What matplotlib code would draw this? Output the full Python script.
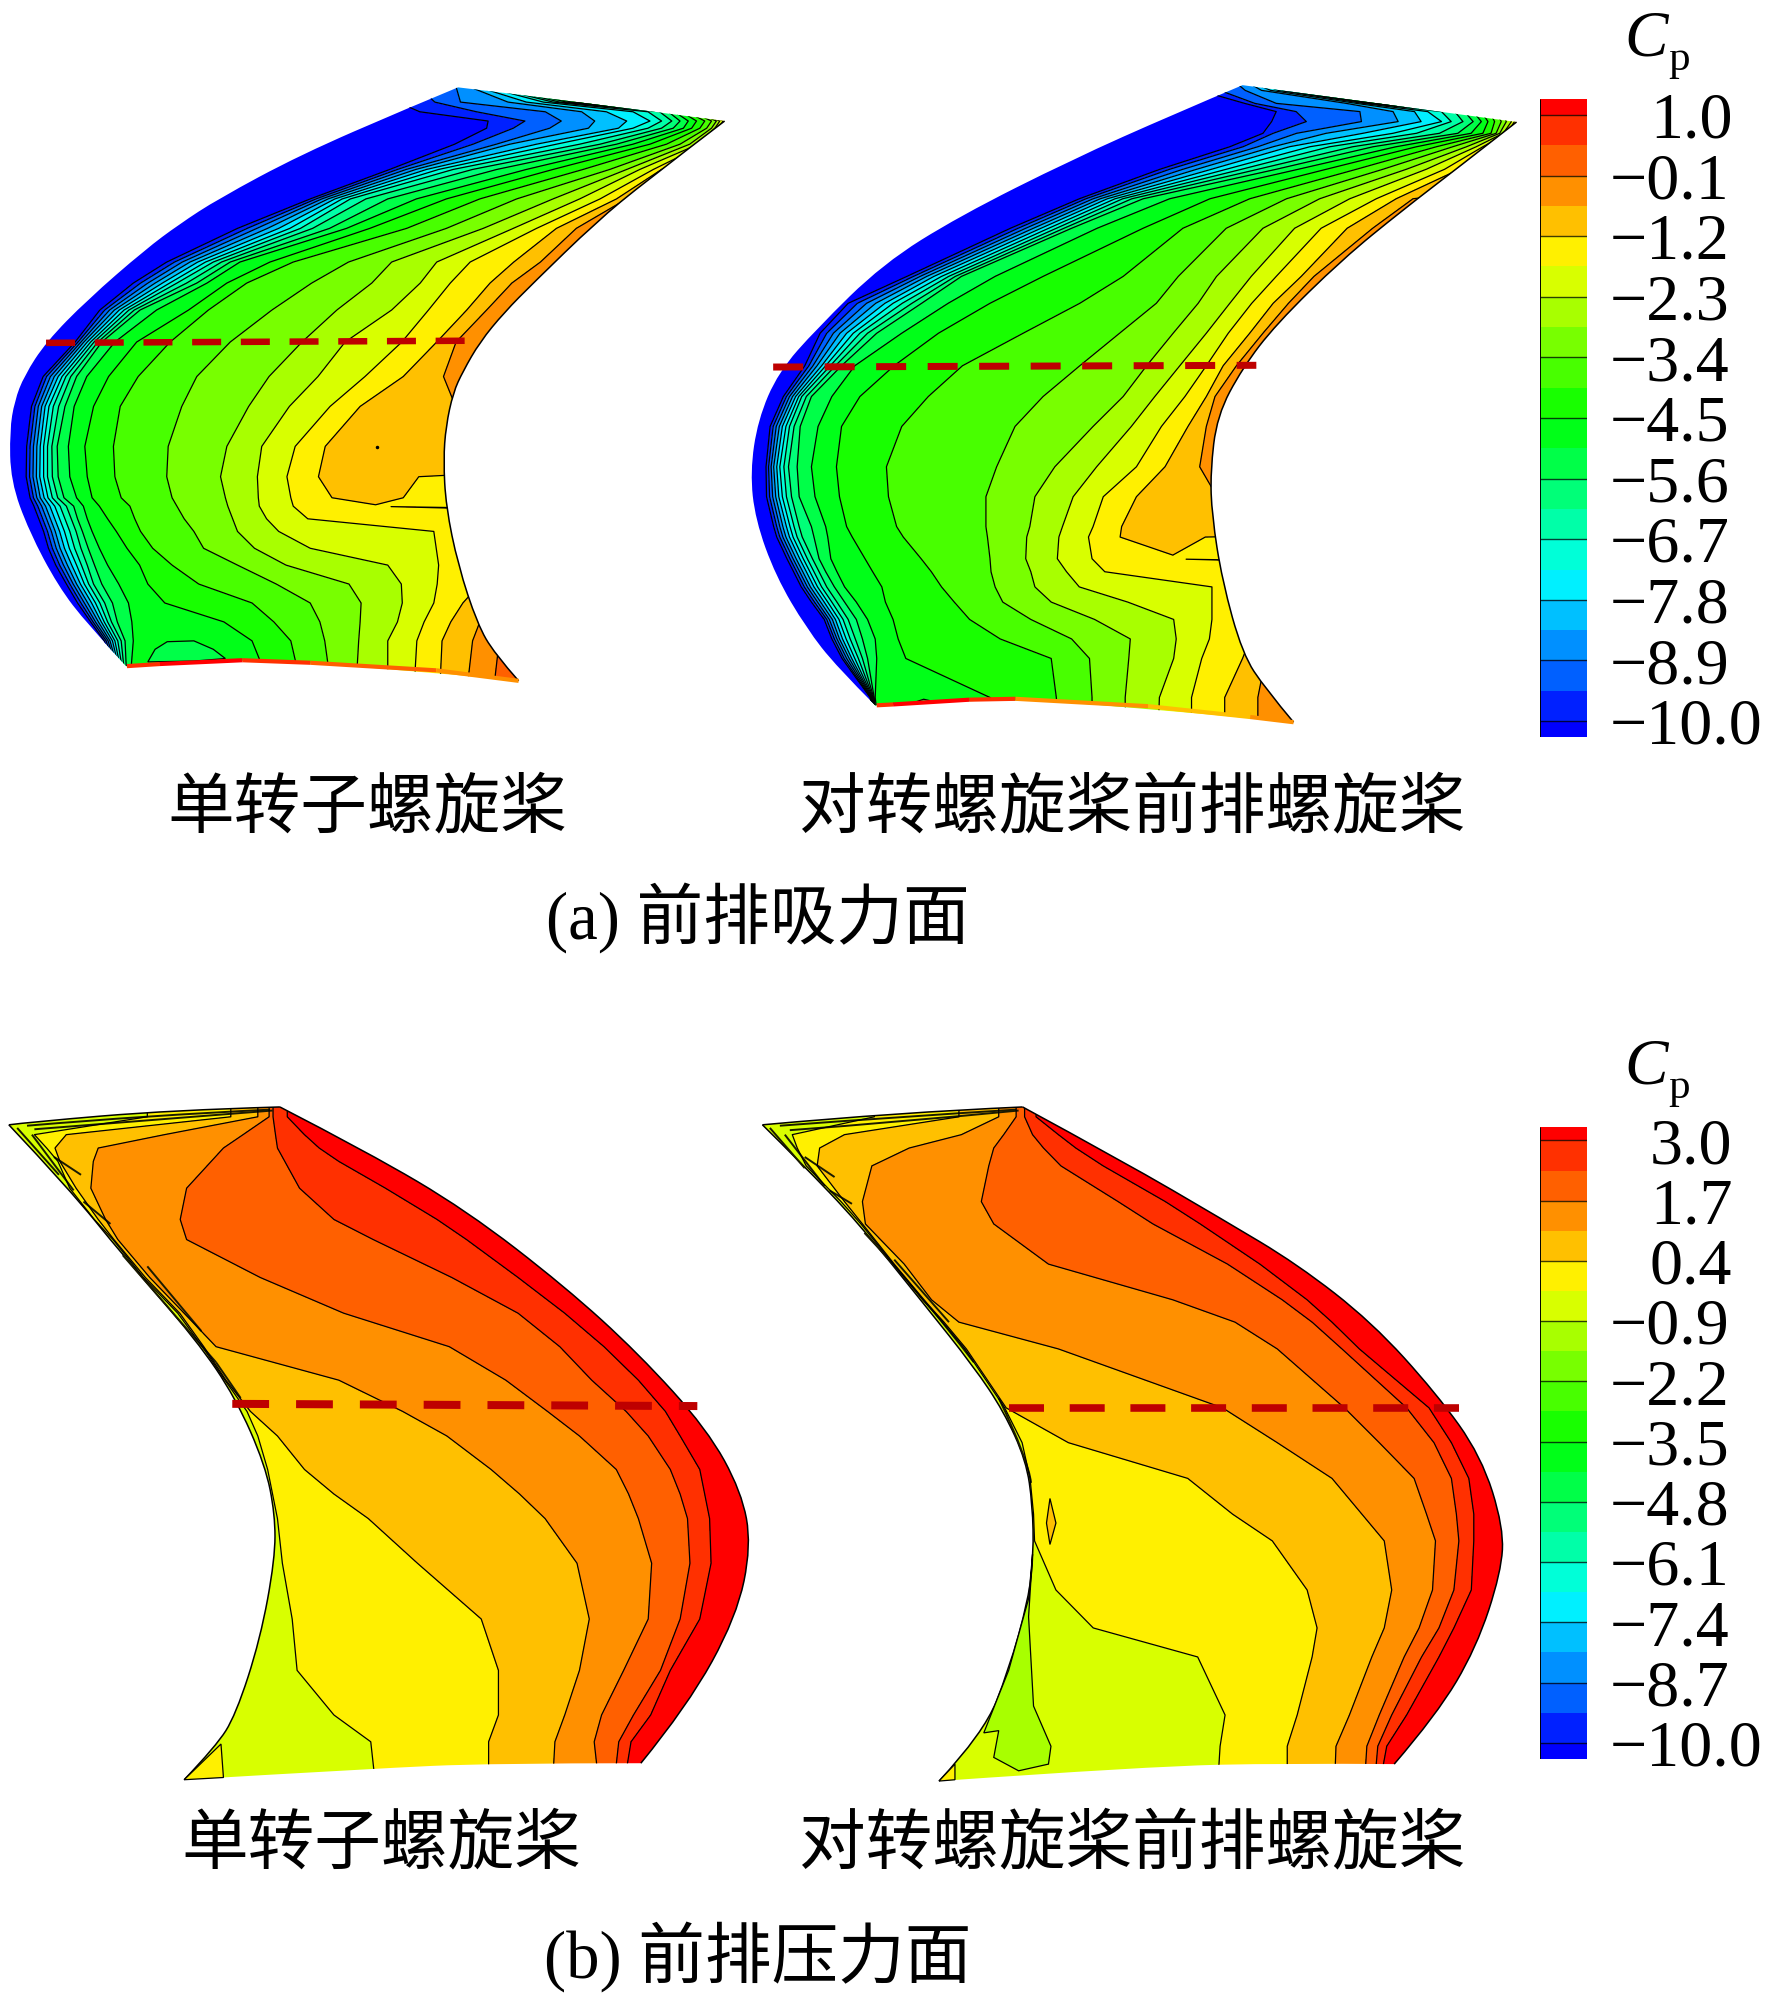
import numpy as np
import matplotlib
matplotlib.use('Agg')
import matplotlib.pyplot as plt
from matplotlib.colors import ListedColormap, BoundaryNorm
from matplotlib.patches import PathPatch
from matplotlib.path import Path
from matplotlib.transforms import blended_transform_factory

W, H = 1772, 1995
SERIF = ['Liberation Serif', 'Noto Sans CJK SC']

BAND_COLORS = ['#0000FF', '#0020FF', '#0060FF', '#0090FF', '#00C0FF', '#00F0FF',
               '#00FFD8', '#00FFA8', '#00FF78', '#00FF48', '#00FF18', '#18FF00',
               '#48FF00', '#78FF00', '#A8FF00', '#D8FF00', '#FFF000', '#FFC000',
               '#FF9000', '#FF6000', '#FF3000', '#FF0000']

# contour levels of the two colour bars
LEVELS_A = [-10, -9.45, -8.9, -8.35, -7.8, -7.25, -6.7, -6.15, -5.6, -5.05, -4.5,
            -3.95, -3.4, -2.85, -2.3, -1.75, -1.2, -0.65, -0.1, 0.45, 1.0]
LEVELS_B = [-10, -9.35, -8.7, -8.05, -7.4, -6.75, -6.1, -5.45, -4.8, -4.15, -3.5,
            -2.85, -2.2, -1.55, -0.9, -0.25, 0.4, 1.05, 1.7, 2.35, 3.0]
TICKS_A = [1.0, -0.1, -1.2, -2.3, -3.4, -4.5, -5.6, -6.7, -7.8, -8.9, -10.0]
TICKS_B = [3.0, 1.7, 0.4, -0.9, -2.2, -3.5, -4.8, -6.1, -7.4, -8.7, -10.0]

# blade outlines (local crop units, 1568 x 1568 per crop)
A1_EDGE = [(945, 65), (840, 115), (620, 225), (450, 330), (370, 390), (300, 450), (180, 570),
           (95, 670), (50, 750), (30, 810), (20, 880), (22, 1000), (60, 1120), (120, 1250),
           (180, 1340), (260, 1440)]
A1_TOP = [(945, 65), (1200, 100), (1495, 145)]
A1_TE = [(1495, 145), (1330, 290), (1230, 385), (1100, 530), (1040, 600), (990, 670), (955, 740),
         (935, 790), (920, 870), (915, 950), (920, 1060), (945, 1200), (985, 1340), (1020, 1410),
         (1070, 1475)]
A1_HUB = [(1070, 1475), (800, 1445), (520, 1425), (400, 1430), (260, 1440)]

A2_EDGE = [(985, 58), (850, 125), (650, 230), (430, 360), (280, 470), (150, 620), (75, 720),
           (35, 830), (20, 950), (30, 1060), (70, 1190), (130, 1310), (190, 1400), (265, 1488)]
A2_TOP = [(985, 58), (1250, 100), (1522, 143)]
A2_TE = [(1522, 143), (1400, 255), (1300, 345), (1180, 460), (1050, 610), (985, 710), (935, 820),
         (922, 950), (925, 1050), (945, 1200), (985, 1370), (1030, 1450), (1085, 1527)]
A2_HUB = [(1085, 1527), (700, 1485), (500, 1472), (265, 1488)]

B1_TE = [(18, 78), (140, 220), (250, 370), (400, 560), (480, 690), (540, 840), (560, 950),
         (560, 1050), (530, 1230), (480, 1400), (440, 1470), (375, 1545)]
B1_TOP = [(18, 78), (60, 72), (350, 45), (570, 38)]
B1_EDGE = [(570, 38), (750, 140), (950, 270), (1150, 440), (1300, 590), (1440, 760), (1510, 900),
           (1530, 1020), (1500, 1180), (1400, 1380), (1305, 1508)]
B1_HUB = [(1305, 1508), (1000, 1508), (760, 1520), (375, 1545)]

B2_TE = [(25, 78), (100, 160), (220, 300), (350, 480), (450, 620), (510, 720), (555, 830),
         (568, 930), (570, 1040), (560, 1140), (520, 1300), (470, 1440), (380, 1548)]
B2_TOP = [(25, 78), (300, 50), (548, 38)]
B2_EDGE = [(548, 38), (750, 160), (950, 290), (1100, 390), (1250, 520), (1380, 680), (1470, 820),
           (1515, 980), (1510, 1080), (1460, 1250), (1380, 1400), (1295, 1510)]
B2_HUB = [(1295, 1510), (1080, 1508), (800, 1515), (380, 1548)]

# where each level crosses a scan row: row y, then x of level -10, -9.45, ...
A1_Y = [60, 100, 123, 145, 162, 200, 260, 330, 400, 480, 530, 594, 670, 752, 823, 918, 990, 1040,
        1060, 1090, 1120, 1160, 1200, 1245, 1290, 1335, 1380, 1480]
A1_X = [[800, 860, 940, 960, 975, 990, 1000, 1010, 1020, 1030, 1040, 1050, 1060, 1070, 1080, 1090, 1100],
        [820, 897, 950, 1048, 1086, 1121, 1141, 1155, 1169, 1179, 1190, 1198, 1207, 1216, 1225, 1234, 1243],
        [866, 983, 1125, 1200, 1251, 1306, 1337, 1361, 1379, 1392, 1406, 1417, 1427, 1434, 1441, 1450, 1460],
        [1007, 1083, 1158, 1227, 1293, 1341, 1365, 1386, 1403, 1420, 1437, 1454, 1468, 1478, 1485, 1492, 1500],
        [1004, 1059, 1134, 1214, 1276, 1306, 1337, 1365, 1389, 1410, 1427, 1444, 1458, 1468, 1475, 1482, 1490],
        [938, 976, 1024, 1052, 1107, 1148, 1196, 1238, 1272, 1306, 1341, 1375, 1403, 1423, 1441, 1454, 1470],
        [804, 820, 838, 858, 880, 905, 935, 975, 1025, 1086, 1141, 1203, 1258, 1293, 1320, 1348, 1365],
        [640, 652, 664, 677, 691, 706, 723, 755, 800, 859, 921, 990, 1066, 1141, 1196, 1238, 1272, 1293],
        [490, 510, 530, 552, 575, 598, 620, 645, 680, 715, 763, 839, 921, 997, 1059, 1107, 1148, 1189],
        [344, 360, 376, 392, 408, 424, 440, 457, 475, 495, 557, 605, 719, 808, 901, 970, 1060, 1115],
        [275, 290, 305, 320, 335, 350, 365, 385, 406, 427, 468, 509, 643, 767, 867, 929, 1011, 1056],
        [206, 216, 226, 236, 246, 256, 266, 277, 289, 323, 389, 430, 561, 695, 808, 884, 963, 1004],
        [155, 161, 167, 173, 180, 187, 194, 202, 210, 237, 282, 351, 475, 623, 712, 829, 901, 941],
        [89, 96, 104, 112, 120, 128, 136, 146, 158, 179, 224, 285, 406, 555, 656, 753, 832, 915],
        [65, 72, 79, 86, 93, 101, 110, 121, 134, 153, 193, 248, 375, 513, 597, 681, 743, 940],
        [55, 62, 69, 76, 83, 90, 98, 107, 118, 141, 175, 234, 347, 468, 540, 609, 671],
        [54, 61, 68, 75, 82, 90, 98, 108, 120, 144, 180, 237, 344, 455, 531, 592, 657, 840, 960],
        [62, 69, 76, 83, 91, 99, 108, 119, 132, 158, 190, 250, 355, 465, 533, 600, 685, 800, 960],
        [70, 78, 86, 94, 103, 113, 124, 137, 152, 172, 205, 268, 365, 470, 535, 605, 740, 770, 960],
        [80, 88, 96, 104, 113, 123, 134, 147, 160, 180, 222, 278, 380, 480, 550, 635],
        [90, 98, 106, 114, 123, 133, 144, 157, 170, 190, 240, 290, 400, 490, 575, 895],
        [100, 108, 116, 124, 133, 143, 154, 167, 182, 205, 262, 315, 420, 525, 640, 900],
        [115, 123, 131, 139, 148, 158, 168, 180, 195, 222, 288, 355, 490, 590, 800, 905, 1000, 1100],
        [137, 144, 151, 158, 166, 174, 183, 193, 210, 245, 305, 410, 570, 720, 828, 902, 990, 1100],
        [160, 167, 174, 181, 189, 197, 206, 216, 232, 265, 340, 520, 640, 745, 830, 895, 955, 1000, 1100],
        [187, 192, 197, 203, 209, 215, 222, 230, 242, 272, 462, 565, 660, 743, 820, 875, 930, 990, 1050],
        [215, 219, 223, 227, 232, 237, 243, 250, 258, 275, 520, 600, 670, 740, 800, 860, 912, 975, 1030],
        [245, 247, 249, 251, 253, 255, 257, 259, 262, 268, 555, 620, 682, 735, 800, 855, 908, 965, 1020]]
# (row, level index, Cp) where the row turns back down after the peak
A1_TURN = [(16, 17, -1.1), (16, 18, -1.6), (17, 17, -1.1), (17, 18, -1.6),
           (18, 16, -1.22), (18, 17, -1.22), (18, 18, -1.6)]

A2_Y = [55, 70, 100, 119, 142, 169, 200, 252, 320, 388, 499, 561, 630, 705, 776, 845, 938, 1007,
        1076, 1100, 1150, 1180, 1215, 1250, 1290, 1335, 1380, 1470, 1540]
A2_X = [[860, 920, 975, 1000, 1010, 1020, 1030, 1040, 1050, 1060, 1070, 1080, 1090, 1100, 1110, 1120, 1130],
        [900, 940, 990, 1022, 1040, 1055, 1065, 1075, 1085, 1095, 1105, 1115, 1125, 1135, 1145, 1155, 1165],
        [989, 1009, 1051, 1188, 1208, 1221, 1231, 1237, 1244, 1250, 1257, 1264, 1271, 1278, 1285, 1292, 1299],
        [1051, 1090, 1215, 1280, 1322, 1348, 1375, 1401, 1420, 1437, 1453, 1469, 1482, 1492, 1502, 1508, 1515],
        [1042, 1110, 1218, 1290, 1335, 1375, 1394, 1417, 1437, 1453, 1466, 1479, 1492, 1502, 1512, 1518, 1525],
        [1025, 1045, 1091, 1149, 1221, 1280, 1326, 1371, 1407, 1433, 1456, 1472, 1482, 1489, 1496, 1503, 1510],
        [960, 986, 1015, 1045, 1077, 1117, 1156, 1201, 1241, 1286, 1326, 1365, 1397, 1424, 1443, 1456, 1470],
        [823, 842, 868, 895, 924, 953, 983, 1015, 1051, 1094, 1149, 1208, 1260, 1306, 1345, 1381, 1410],
        [665, 678, 692, 706, 720, 735, 750, 768, 790, 842, 921, 999, 1071, 1136, 1195, 1247, 1286, 1319],
        [530, 545, 560, 575, 590, 605, 620, 635, 650, 700, 790, 868, 953, 1025, 1087, 1139, 1190, 1240],
        [327, 340, 353, 366, 380, 395, 409, 422, 434, 500, 594, 751, 859, 934, 1002, 1051, 1100, 1125],
        [212, 230, 248, 266, 284, 300, 318, 337, 356, 408, 490, 666, 816, 898, 960, 1003, 1045, 1075],
        [157, 170, 183, 196, 209, 222, 235, 250, 268, 317, 389, 555, 744, 849, 914, 957, 999, 1025],
        [127, 135, 143, 151, 160, 168, 177, 187, 199, 225, 302, 436, 666, 797, 862, 914, 947, 973],
        [85, 91, 97, 103, 109, 115, 121, 130, 140, 180, 235, 369, 594, 751, 813, 872, 914, 931],
        [59, 65, 71, 77, 83, 90, 97, 106, 118, 153, 199, 317, 539, 692, 767, 826, 878, 914],
        [51, 56, 61, 66, 72, 78, 86, 95, 112, 140, 189, 287, 503, 617, 699, 777, 833, 901],
        [52, 58, 64, 70, 76, 83, 91, 101, 116, 147, 195, 291, 482, 578, 653, 712, 777, 935],
        [66, 72, 78, 84, 91, 98, 106, 116, 140, 168, 209, 307, 482, 568, 632, 692, 748],
        [72, 78, 84, 90, 97, 104, 112, 122, 145, 172, 220, 320, 485, 562, 625, 683, 745, 890, 1000],
        [92, 98, 104, 110, 117, 124, 132, 142, 155, 178, 245, 355, 490, 560, 622, 690, 780, 840, 1000],
        [105, 111, 117, 123, 130, 137, 145, 155, 168, 190, 260, 375, 492, 570, 640, 715],
        [120, 126, 132, 138, 145, 152, 160, 170, 185, 205, 278, 395, 500, 578, 665, 925],
        [140, 146, 152, 158, 165, 172, 180, 190, 205, 228, 285, 420, 515, 610, 760, 925],
        [165, 170, 175, 181, 187, 194, 202, 212, 228, 250, 300, 450, 570, 695, 850, 925, 1010, 1100],
        [180, 185, 190, 195, 201, 208, 216, 226, 240, 265, 310, 510, 650, 765, 855, 920, 1000, 1060],
        [200, 204, 209, 214, 219, 225, 232, 240, 250, 268, 325, 610, 685, 762, 850, 905, 985, 1030],
        [255, 256, 257, 258, 259, 260, 261, 262, 263, 265, 490, 620, 690, 755, 822, 885, 950, 1015],
        [262, 263, 264, 265, 266, 267, 268, 269, 270, 272, 560, 625, 690, 755, 820, 885, 950, 1015]]
A2_TURN = [(19, 17, -1.1), (19, 18, -1.6), (20, 16, -1.22), (20, 17, -1.22), (20, 18, -1.6)]

# pressure side: x of levels -0.25, 0.4, 1.05, 1.7, 2.35, 3.0
B_COLS = [-0.25, 0.4, 1.05, 1.7, 2.35, 3.0]
B1_Y = [30, 60, 100, 130, 160, 220, 290, 335, 420, 500, 575, 650, 720, 775, 850, 905, 960, 1060, 1185,
        1300, 1400, 1460, 1560]
B1_X = [[300, 470, 525, 548, 556, 585], [300, 470, 525, 548, 556, 585], [70, 135, 335, 495, 561, 620],
        [95, 112, 200, 455, 565, 650], [118, 122, 190, 430, 580, 690], [142, 155, 185, 380, 610, 785],
        [192, 200, 215, 367, 680, 890], [230, 232, 240, 380, 760, 950], [292, 296, 305, 530, 920, 1055],
        [362, 366, 375, 700, 1055, 1150], [412, 415, 440, 915, 1140, 1230], [458, 460, 690, 1030, 1205, 1300],
        [503, 510, 820, 1115, 1275, 1355], [525, 565, 910, 1180, 1320, 1385], [545, 620, 1000, 1255, 1365, 1425],
        [555, 680, 1058, 1280, 1385, 1435], [565, 750, 1110, 1300, 1400, 1445],
        [575, 850, 1175, 1327, 1405, 1448], [595, 980, 1200, 1320, 1385, 1425], [605, 1015, 1180, 1270, 1345, 1365],
        [680, 1015, 1150, 1225, 1290, 1325], [755, 995, 1130, 1210, 1260, 1285], [765, 995, 1125, 1220, 1250, 1270]]

B2_Y = [30, 60, 100, 130, 170, 250, 300, 390, 470, 520, 580, 712, 790, 870, 950, 1010, 1120, 1205, 1270,
        1400, 1470, 1560]
B2_X = [[250, 420, 500, 535, 552, 575], [250, 420, 500, 535, 552, 575], [85, 190, 425, 510, 568, 620],
        [95, 140, 320, 490, 590, 655], [113, 135, 245, 480, 625, 710], [183, 190, 226, 465, 740, 835],
        [223, 226, 232, 490, 810, 905], [288, 290, 310, 600, 960, 1025], [347, 349, 365, 850, 1070, 1120],
        [387, 390, 420, 975, 1130, 1170], [432, 435, 620, 1060, 1190, 1225], [512, 515, 950, 1195, 1320, 1365],
        [547, 640, 1060, 1265, 1375, 1410], [563, 880, 1170, 1335, 1410, 1445], [570, 970, 1230, 1360, 1420, 1455],
        [572, 1050, 1275, 1378, 1425, 1455],
        [615, 1120, 1290, 1372, 1415, 1450], [690, 1140, 1275, 1345, 1385, 1415], [900, 1130, 1250, 1315, 1350, 1385],
        [955, 1100, 1205, 1265, 1290, 1320], [945, 1080, 1178, 1240, 1262, 1280], [940, 1080, 1175, 1235, 1255, 1265]]

# thin high pressure strip along the hub of the suction side
A1_STRIP_X = [262, 330, 500, 640, 900, 1070]
A1_STRIP_Y = [1440, 1435, 1426, 1432, 1450, 1475]
A1_STRIP_CP = [0.7, 1.2, 0.6, 0.1, -0.4]
A2_STRIP_X = [268, 300, 450, 540, 800, 1000, 1085]
A2_STRIP_Y = [1488, 1486, 1475, 1473, 1490, 1515, 1527]
A2_STRIP_CP = [0.7, 1.2, 0.7, -0.3, -0.9, -0.4]

# small closed islands
A1_SPOT = [(305, 1430), (320, 1400), (345, 1382), (400, 1380), (440, 1400), (465, 1422), (400, 1428)]
A2_SPOT = [(345, 1480), (360, 1474), (375, 1478), (360, 1482)]
B2_SPOT = [(603, 915), (615, 970), (603, 1018), (596, 970)]
B2_WEDGE = [(568, 1040), (560, 1180), (570, 1380), (605, 1470), (600, 1510), (540, 1525), (490, 1495),
            (500, 1435), (470, 1440), (520, 1300), (560, 1140)]
B1_CORNER = [(375, 1545), (450, 1465), (455, 1540)]
B2_CORNER = [(380, 1548), (412, 1510), (412, 1545)]

# dark packed lines near the tip of the pressure side
B1_FRINGE = [[(55, 80), (300, 57), (550, 44)], [(70, 88), (300, 68), (555, 46)], [(35, 85), (120, 190)],
             [(65, 100), (150, 225)], [(110, 150), (165, 190)], [(170, 250), (225, 300)],
             [(250, 370), (360, 510), (440, 610)], [(300, 395), (410, 540)], [(440, 610), (490, 690)]]
B2_FRINGE = [[(60, 80), (300, 60), (535, 44)], [(80, 90), (300, 72), (540, 46)], [(40, 85), (110, 175)],
             [(70, 100), (150, 215)], [(110, 150), (170, 195)], [(160, 225), (205, 255)],
             [(230, 320), (340, 450), (450, 610)], [(290, 380), (400, 520)], [(500, 690), (560, 830), (565, 880)]]

LABEL_SINGLE = '单转子螺旋桨'
LABEL_FRONT = '对转螺旋桨前排螺旋桨'
CAPTION_A = '(a) 前排吸力面'
CAPTION_B = '(b) 前排压力面'

fig = plt.figure(figsize=(W / 100, H / 100), dpi=100)


def crop_axes(x, y, w, h):
    ax = fig.add_axes([x / W, 1 - (y + h) / H, w / W, h / H])
    ax.set_xlim(0, 1568)
    ax.set_ylim(1568, 0)
    ax.axis('off')
    return ax


def level_field(rows_y, rows_x, cols, low, high, turns=()):
    # one quad mesh column per level, absent levels lie right of the blade
    n = len(cols)
    X, Z = [], []
    for row in rows_x:
        xs = list(row) + [1800 + 20 * k for k in range(n - len(row))]
        X.append([-300] + xs + [2400])
        Z.append([low] + list(cols) + [high])
    X = np.array(X, dtype=float)
    Z = np.array(Z, dtype=float)
    for r, c, v in turns:
        Z[r, c + 1] = v
    Y = np.array(rows_y, dtype=float)[:, None] * np.ones(X.shape[1])
    return X, Y, Z


def rounded(parts):
    # quadratic path through the read points, sharp only at the corners between parts
    verts, codes = [], []
    for part in parts:
        if not verts:
            verts.append(part[0])
            codes.append(Path.MOVETO)
        for i in range(1, len(part) - 1):
            end = part[i + 1] if i == len(part) - 2 else ((part[i][0] + part[i + 1][0]) / 2,
                                                          (part[i][1] + part[i + 1][1]) / 2)
            verts += [part[i], end]
            codes += [Path.CURVE3, Path.CURVE3]
        if len(part) == 2:
            verts.append(part[1])
            codes.append(Path.LINETO)
    return Path(verts, codes)


def draw_blade(ax, field, levels, parts, strokes, lw=0.9):
    X, Y, Z = field
    fill_levels = [-30] + list(levels) + [30]
    patch = PathPatch(rounded(parts), facecolor='none', edgecolor='none', transform=ax.transData)
    ax.add_patch(patch)
    cf = ax.contourf(X, Y, Z, levels=fill_levels, colors=BAND_COLORS)
    cf.set_clip_path(patch)
    cl = ax.contour(X, Y, Z, levels=levels, colors='k', linewidths=lw, negative_linestyles='solid')
    cl.set_clip_path(patch)
    for part in strokes:
        ax.add_patch(PathPatch(rounded([part]), facecolor='none', edgecolor='k', lw=1.1))


def island(ax, pts, color):
    ax.fill(*zip(*pts), facecolor=color, edgecolor='k', lw=0.9)


def fringe(ax, lines):
    for part in lines:
        ax.add_patch(PathPatch(rounded([part]), facecolor='none', edgecolor='#1a1a00', lw=1.4))


def strip(ax, xs, ys, cps, levels):
    norm = BoundaryNorm([-30] + list(levels) + [30], len(BAND_COLORS))
    cmap = ListedColormap(BAND_COLORS)
    for i, cp in enumerate(cps):
        ax.plot(xs[i:i + 2], ys[i:i + 2], color=cmap(norm(cp)), lw=3, solid_capstyle='butt')


def cut_line(ax, x0, y0, x1, y1, thick, on, off):
    line, = ax.plot([x0, x1], [y0, y1], color='#BE0000', lw=thick * 0.72, solid_capstyle='butt')
    line.set_dashes([on / thick, off / thick])
    line.set_dash_capstyle('butt')


# suction side, single rotor
ax = crop_axes(0, 60, 760, 660)
draw_blade(ax, level_field(A1_Y, A1_X, LEVELS_A, -11, 2, turns=A1_TURN), LEVELS_A,
           [A1_EDGE[::-1], A1_TOP, A1_TE, A1_HUB], [A1_TE])
island(ax, A1_SPOT, BAND_COLORS[9])
ax.plot([778], [920], 'k.', ms=3)
strip(ax, A1_STRIP_X, A1_STRIP_Y, A1_STRIP_CP, LEVELS_A)
cut_line(ax, 95, 672, 960, 667, 6.5, 29, 19.7)

# suction side, front rotor of the pair
ax = crop_axes(740, 60, 800, 680)
draw_blade(ax, level_field(A2_Y, A2_X, LEVELS_A, -11, 2, turns=A2_TURN), LEVELS_A,
           [A2_EDGE[::-1], A2_TOP, A2_TE, A2_HUB], [A2_TE])
island(ax, A2_SPOT, BAND_COLORS[9])
strip(ax, A2_STRIP_X, A2_STRIP_Y, A2_STRIP_CP, LEVELS_A)
cut_line(ax, 65, 708, 1012, 704, 7, 30, 21.5)

# pressure side, single rotor
ax = crop_axes(0, 1090, 770, 700)
draw_blade(ax, level_field(B1_Y, B1_X, B_COLS, -0.6, 3.4), LEVELS_B,
           [B1_TOP, B1_EDGE, B1_HUB, B1_TE[::-1]], [B1_TE, B1_TOP, B1_EDGE])
island(ax, B1_CORNER, BAND_COLORS[16])
fringe(ax, B1_FRINGE)
cut_line(ax, 473, 703, 1420, 708, 8, 36.8, 27)

# pressure side, front rotor of the pair
ax = crop_axes(750, 1090, 780, 700)
draw_blade(ax, level_field(B2_Y, B2_X, B_COLS, -0.6, 3.4), LEVELS_B,
           [B2_TOP, B2_EDGE, B2_HUB, B2_TE[::-1]], [B2_TE, B2_TOP, B2_EDGE])
island(ax, B2_WEDGE, BAND_COLORS[14])
island(ax, B2_SPOT, BAND_COLORS[17])
island(ax, B2_CORNER, BAND_COLORS[16])
fringe(ax, B2_FRINGE)
cut_line(ax, 520, 713, 1425, 713, 7.6, 35, 25.7)


# colour bars
def color_bar(top, bottom, levels, ticks, vmin, vmax, label_y):
    ax = fig.add_axes([1540 / W, 1 - bottom / H, 47 / W, (bottom - top) / H])
    edges = [vmin] + list(levels) + [vmax]
    ax.pcolormesh([0, 1], edges, np.arange(len(BAND_COLORS)).reshape(-1, 1),
                  cmap=ListedColormap(BAND_COLORS), vmin=-0.5, vmax=len(BAND_COLORS) - 0.5)
    ax.hlines(ticks, 0, 1, color='k', lw=1.0, alpha=0.75)
    ax.set_xlim(0, 1)
    ax.set_ylim(vmin, vmax)
    ax.set_xticks([])
    ax.set_yticks([])
    for s in ax.spines.values():
        s.set_visible(False)
    ax.vlines([0, 1], vmin, vmax, color='k', lw=0.7)
    trans = blended_transform_factory(fig.transFigure, ax.transData)
    for t in ticks:
        txt = '\u2212%.1f' % abs(t) if t < 0 else '%.1f' % t
        x = 1610 if t < 0 else 1650
        ax.text(x / W, t, txt, transform=trans, family=SERIF, fontsize=47.5, ha='left',
                va='center_baseline', clip_on=False)
    fig.text(1624 / W, 1 - label_y / H, 'C', family=SERIF, style='italic', fontsize=47, ha='left',
             va='baseline')
    fig.text(1668 / W, 1 - (label_y + 14) / H, 'p', family=SERIF, fontsize=31, ha='left',
             va='baseline')


color_bar(99, 737, LEVELS_A, TICKS_A, -10.29, 1.29, 56)
color_bar(1127, 1759, LEVELS_B, TICKS_B, -10.35, 3.29, 1084)

# labels, placed in picture pixels
top = fig.add_axes([0, 0, 1, 1])
top.set_xlim(0, W)
top.set_ylim(H, 0)
top.axis('off')
for x, y, s in [(367, 811, LABEL_SINGLE), (1132, 811, LABEL_FRONT), (758, 918, CAPTION_A),
                (381, 1847, LABEL_SINGLE), (1132, 1847, LABEL_FRONT), (758, 1957, CAPTION_B)]:
    top.text(x, y, s, family=SERIF, fontsize=48, ha='center', va='center')

fig.savefig('out.png', dpi=100)
